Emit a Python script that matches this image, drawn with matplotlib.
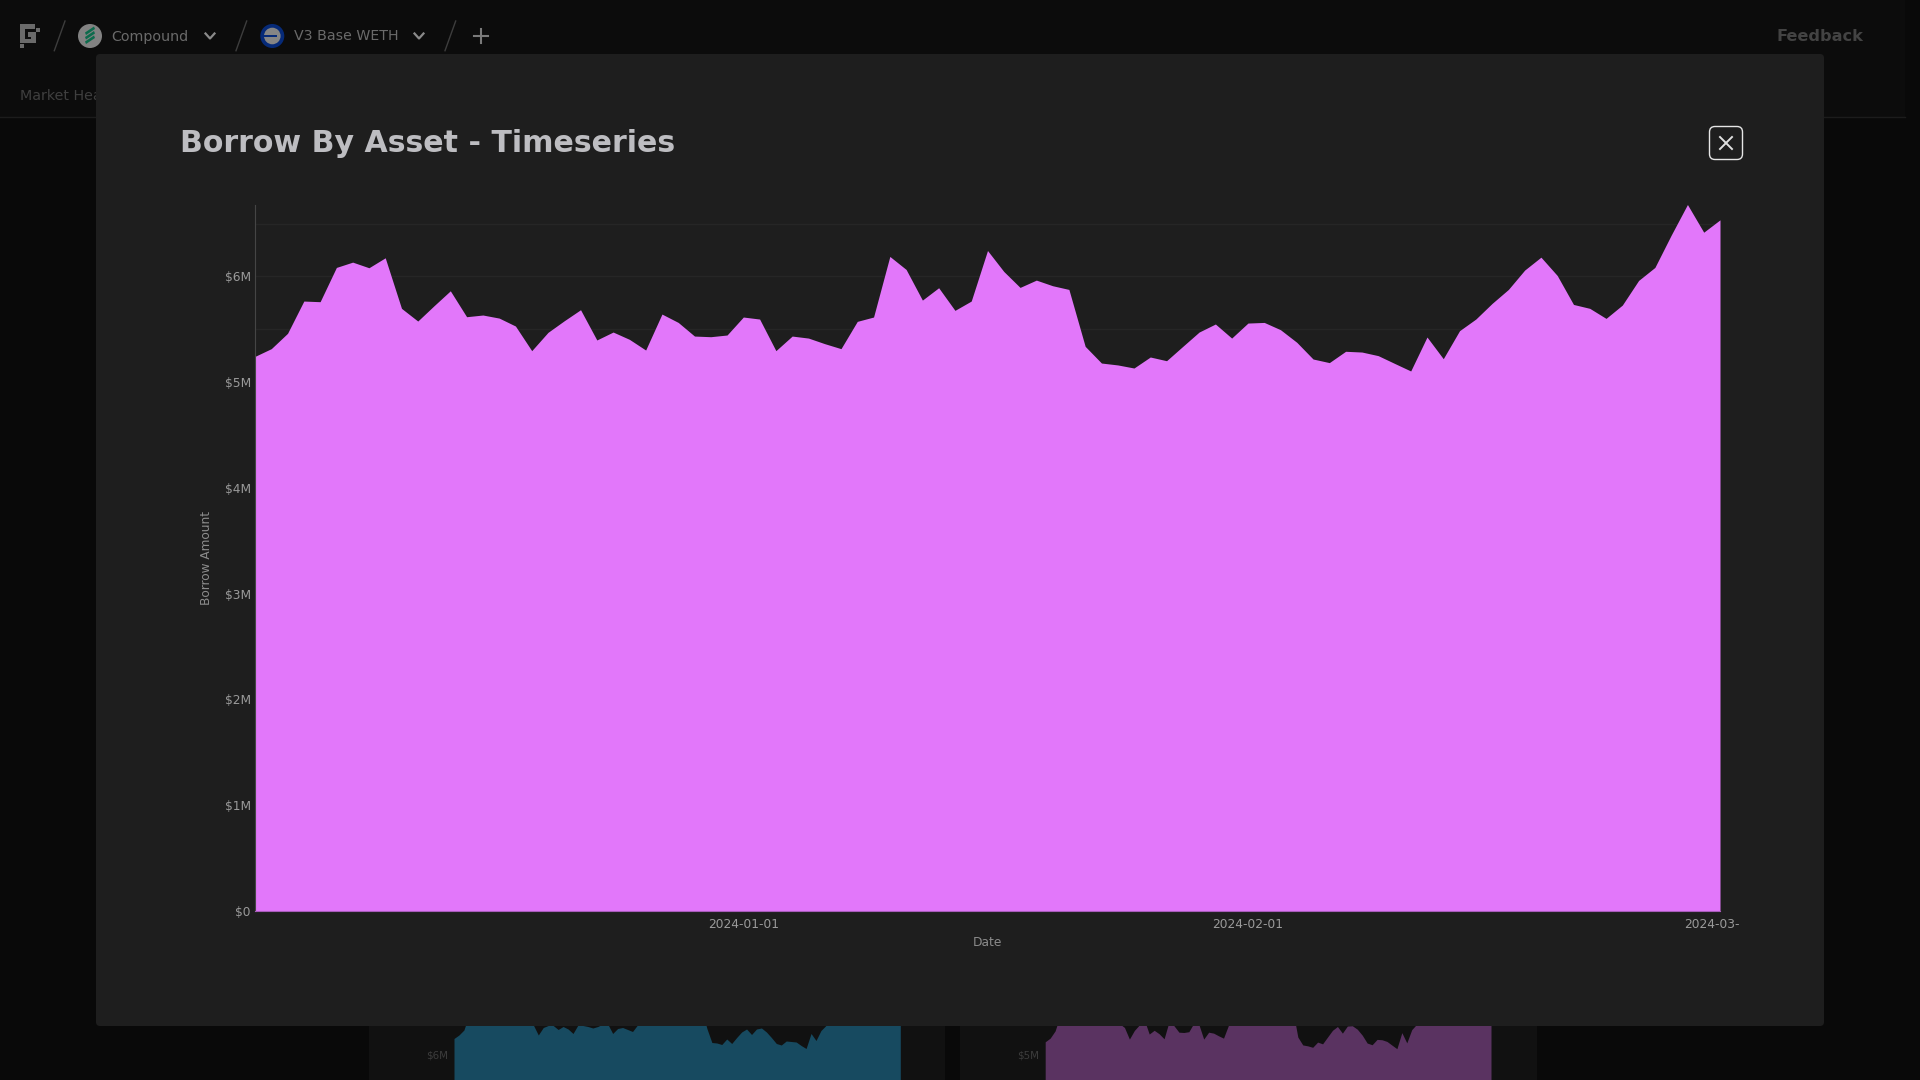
import matplotlib
matplotlib.use("Agg")
import matplotlib.pyplot as plt
import pandas as pd
from matplotlib.patches import Rectangle, FancyBboxPatch, Circle, Polygon
from matplotlib.lines import Line2D
from matplotlib.ticker import FuncFormatter, MultipleLocator
from matplotlib.transforms import Bbox

plt.rcParams['font.family'] = ['DejaVu Sans']

TITLE = "Borrow By Asset - Timeseries"
X_LABEL = "Date"
Y_LABEL = "Borrow Amount"
START_DATE = "2023-12-02"
X_TICK_DATES = ["2024-01-01", "2024-02-01", "2024-03-01"]

# Borrow amount, $M per day (also the shape of the dimmed purple card behind the dialog)
BORROW_M = [
    5.244, 5.317, 5.462, 5.767, 5.761, 6.085, 6.135, 6.082, 6.176, 5.698,
    5.578, 5.723, 5.864, 5.619, 5.635, 5.606, 5.531, 5.298, 5.471, 5.581,
    5.685, 5.399, 5.474, 5.405, 5.304, 5.644, 5.565, 5.436, 5.430, 5.446,
    5.616, 5.597, 5.298, 5.436, 5.417, 5.364, 5.317, 5.575, 5.616, 6.189,
    6.066, 5.776, 5.893, 5.679, 5.767, 6.245, 6.047, 5.896, 5.965, 5.912,
    5.877, 5.339, 5.181, 5.163, 5.134, 5.238, 5.203, 5.339, 5.474, 5.550,
    5.417, 5.559, 5.565, 5.496, 5.377, 5.219, 5.185, 5.292, 5.285, 5.251,
    5.178, 5.106, 5.427, 5.222, 5.487, 5.597, 5.745, 5.877, 6.060, 6.182,
    6.009, 5.735, 5.698, 5.603, 5.729, 5.962, 6.085, 6.390, 6.680, 6.418,
    6.535,
]
# Dimmed blue card behind the dialog, $M per day (only its lower part shows)
BLUE_M = [
    6.31, 6.38, 6.48, 6.78, 6.77, 7.09, 7.14, 7.08, 7.18, 6.70,
    6.60, 6.72, 6.86, 6.62, 6.64, 6.61, 6.58, 6.38, 6.53, 6.57,
    6.57, 6.49, 6.55, 6.50, 6.41, 6.58, 6.57, 6.55, 6.52, 6.55,
    6.60, 6.60, 6.41, 6.51, 6.53, 6.49, 6.45, 6.58, 6.62, 7.19,
    7.07, 6.78, 6.89, 6.68, 6.77, 7.25, 7.05, 6.90, 6.97, 6.91,
    6.88, 6.51, 6.23, 6.22, 6.19, 6.30, 6.21, 6.33, 6.44, 6.50,
    6.39, 6.50, 6.52, 6.44, 6.33, 6.21, 6.18, 6.26, 6.25, 6.24,
    6.17, 6.11, 6.41, 6.27, 6.47, 6.57, 6.75, 6.88, 7.06, 7.18,
    7.01, 6.74, 6.70, 6.60, 6.73, 6.96, 7.09, 7.39, 7.68, 7.42,
    7.54,
]
BLUE_TICKS = [6]
PURPLE_TICKS = [5]

W, H = 1920, 1080
fig = plt.figure(figsize=(19.2, 10.8), dpi=100, facecolor="#090909")


def px_axes(left, top, right, bottom, **kw):
    return fig.add_axes([left / W, 1 - bottom / H, (right - left) / W, (bottom - top) / H], **kw)


money = FuncFormatter(lambda v, _: "$0" if v == 0 else f"${v:.0f}M")
dates = pd.date_range(START_DATE, periods=len(BORROW_M), freq="D")

# ---- page chrome, pixel space ----
bg = px_axes(0, 0, W, H, zorder=0)
bg.set_xlim(0, W); bg.set_ylim(H, 0); bg.axis("off")
bg.add_patch(Rectangle((0, 0), 1905, 117, fc="#0c0c0c", ec="none"))
bg.add_line(Line2D([0, 1905], [117, 117], color="#1c1c1c", lw=1))
for x0, x1 in [(369, 945), (960, 1537)]:
    bg.add_patch(FancyBboxPatch((x0, 990), x1 - x0, 200, boxstyle="round,pad=0,rounding_size=4",
                                fc="#111111", ec="none"))
bg.text(20, 95.5, "Market Health", color="#3f3f3f", fontsize=10.3, va="center", ha="left")
nav = "#6a6a6a"
# logo
for x, y, w, h in [(20, 24, 5, 19), (20, 24, 15, 4.5), (36, 28, 4, 4), (28, 32, 8, 5),
                   (31, 32, 5, 11), (20, 39, 16, 4), (20, 44, 4, 4)]:
    bg.add_patch(Rectangle((x, y), w, h, fc=nav, ec="none"))
# breadcrumb separators
for x in [54.3, 236, 445]:
    bg.add_line(Line2D([x, x + 10.7], [50.7, 21], color="#3d3d3d", lw=1))
# compound icon
bg.add_patch(Circle((90, 36), 12, fc="#828282", ec="none"))
for dy in [-4.5, 0, 4.5]:
    bg.add_patch(Polygon([(85, 37 + dy), (94, 31 + dy), (95, 33.5 + dy), (86, 39.5 + dy)], fc="#0c6b4c", ec="none"))
bg.text(111.5, 36.5, "Compound", color=nav, fontsize=10.3, va="center", ha="left")
# market icon
bg.add_patch(Circle((272.3, 36), 12, fc="#062a78", ec="none"))
bg.add_patch(Circle((272.3, 36), 8.3, fc="#858585", ec="none"))
bg.add_patch(Rectangle((264, 35), 13, 2, fc="#062a78", ec="none"))
bg.text(294, 36.5, "V3 Base WETH", color=nav, fontsize=10.2, va="center", ha="left")
# chevrons and plus
for x in [210, 419]:
    bg.add_line(Line2D([x - 4.5, x, x + 4.5], [33.5, 38.5, 33.5], color="#8a8a8a", lw=1.6))
bg.add_line(Line2D([481, 481], [29, 43], color="#7a7a7a", lw=1.5))
bg.add_line(Line2D([474, 488], [36, 36], color="#7a7a7a", lw=1.5))
bg.text(1776, 36.5, "Feedback", color="#434343", fontsize=11.6, fontweight="bold", va="center", ha="left")

# ---- dimmed cards behind the dialog ----
SMALL_BASE = {"blue": 1354, "purple": 1304}
for name, vals, col, left, right, yt in [("blue", BLUE_M, "#174A60", 454, 900.3, BLUE_TICKS),
                                         ("purple", BORROW_M, "#5A3361", 1045.2, 1491, PURPLE_TICKS)]:
    base = SMALL_BASE[name]
    ax = px_axes(left, base - 8 * 50, right, base, zorder=1)
    ax.patch.set_alpha(0)
    ax.fill_between(dates, vals, 0, color=col, lw=0)
    ax.set_xlim(dates[0], dates[-1]); ax.set_ylim(0, 8)
    ax.set_yticks(yt)
    ax.yaxis.set_major_formatter(money)
    ax.set_xticks([])
    ax.tick_params(axis="y", length=0, pad=4.5, labelsize=7.4, labelcolor="#3c3c3c")
    for s in ax.spines.values():
        s.set_visible(False)

# ---- dialog ----
modal = px_axes(0, 0, W, H, zorder=2)
modal.set_xlim(0, W); modal.set_ylim(H, 0); modal.axis("off"); modal.patch.set_alpha(0)
modal.add_patch(FancyBboxPatch((96, 54), 1728, 972, boxstyle="round,pad=0,rounding_size=4",
                               fc="#1e1e1e", ec="none"))
modal.text(180.5, 144, TITLE, color="#bdbdc1", fontsize=21.6, fontweight="bold", va="center", ha="left")
modal.add_patch(FancyBboxPatch((1709.5, 126.5), 33, 33, boxstyle="round,pad=0,rounding_size=5.5",
                               fc="none", ec="#e6e6e6", lw=1))
modal.add_line(Line2D([1720, 1732], [137, 149], color="#e0e0e0", lw=1.4))
modal.add_line(Line2D([1720, 1732], [149, 137], color="#e0e0e0", lw=1.4))
modal.text(206.5, 558, Y_LABEL, color="#8c8c8c", fontsize=8.7, rotation=90, va="center", ha="center")
modal.text(987.5, 942.5, X_LABEL, color="#8c8c8c", fontsize=8.8, va="center", ha="center")

# ---- main chart ----
TOP_M = 6.68
ax = px_axes(255, 204.5, 1720, 911, zorder=3)
ax.patch.set_alpha(0)
ax.set_axisbelow(True)
ax.fill_between(dates, BORROW_M, 0, color="#E277FA", lw=0, zorder=2)
ax.set_xlim(dates[0], dates[-1])
ax.set_ylim(0, TOP_M)
ax.yaxis.set_major_locator(MultipleLocator(1))
ax.yaxis.set_major_formatter(money)
ax.yaxis.set_minor_locator(MultipleLocator(0.5))
ax.grid(True, axis="y", which="both", color="#262626", lw=1)
ax.grid(False, axis="x")
ticks = pd.to_datetime(X_TICK_DATES)
ax.set_xticks(ticks)
ax.set_xticklabels(X_TICK_DATES)
ax.tick_params(axis="both", which="both", length=0, labelsize=8.8, labelcolor="#9a9a9a")
ax.tick_params(axis="y", pad=3)
ax.tick_params(axis="x", pad=5.3)
for side in ["top", "right"]:
    ax.spines[side].set_visible(False)
ax.spines["left"].set_color("#454545")
ax.spines["bottom"].set_color("#a85cba")
ax.spines["left"].set_zorder(5)
ax.spines["bottom"].set_zorder(5)
# the last date label is cut off by the chart's SVG edge
clip = Bbox([[0, 0], [1739, H]])
for lab in ax.get_xticklabels():
    lab.set_clip_box(clip)
    lab.set_clip_on(True)

fig.savefig("out.png", dpi=100, facecolor=fig.get_facecolor())
